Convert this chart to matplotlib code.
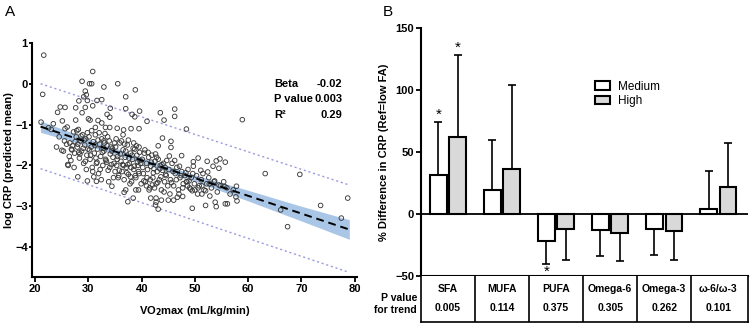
import numpy as np
import matplotlib
matplotlib.use("Agg")
import matplotlib.pyplot as plt
from matplotlib.patches import Patch

plt.rcParams['font.family'] = ['Liberation Sans', 'DejaVu Sans']

# ---------------- panel A data ----------------
# sparse points (upper part of cloud)
xs_top = [21.6, 21.4, 21.1, 30.8, 28.8, 30.2, 30.6, 35.5, 32.9, 38.8, 37.0, 29.4, 29.6, 29.1, 29.8, 28.2, 31.6, 32.5,
          24.7, 25.6, 27.6, 29.4, 30.8, 34.1, 37.0, 24.2, 28.8, 46.2, 46.2, 43.5, 39.6, 38.2, 38.7, 41.0, 44.2, 48.4,
          58.9, 25.1, 26.0, 23.4, 27.6, 30.0, 30.3, 31.8, 33.5, 34.0, 31.3, 33.2, 34.0, 35.4, 36.6, 38.0, 39.5, 32.5]
ys_top = [0.70, -0.26, -0.94, 0.30, 0.06, 0.0, 0.0, 0.0, -0.08, -0.15, -0.32, -0.18, -0.27, -0.32, -0.41, -0.42, -0.41, -0.39,
          -0.57, -0.58, -0.59, -0.58, -0.54, -0.60, -0.61, -0.70, -0.71, -0.62, -0.80, -0.71, -0.67, -0.75, -0.81, -0.92, -0.89, -1.11,
          -0.88, -0.91, -1.06, -0.98, -0.89, -0.86, -0.89, -0.90, -0.75, -0.82, -1.07, -1.07, -1.07, -1.09, -1.13, -1.10, -1.10, -0.96]

# right side and lower points
xs_side = [43.9, 45.5, 45.5, 45.2, 47.5, 43.1, 50.6, 52.3, 54.0, 54.7, 55.7, 49.7, 49.7, 53.4, 54.5, 52.4, 51.1, 63.2,
           69.7, 73.6, 78.7, 77.5, 67.4, 66.1, 49.5, 43.1, 37.4, 38.4, 52.0, 54.0, 55.7, 56.1, 57.9, 57.7, 57.8, 55.6,
           54.5, 53.7, 28.0, 26.2, 29.8, 31.5, 34.4, 37.0, 36.7, 38.9, 39.4, 40.9, 41.7, 42.7, 42.7, 42.6, 43.7, 45.0,
           46.0, 46.7, 47.7, 50.6, 51.3, 52.0, 51.3, 52.7, 50.0, 48.5, 49.2]
ys_side = [-1.33, -1.41, -1.56, -1.77, -1.76, -1.52, -1.82, -1.90, -1.89, -1.84, -1.92, -1.91, -2.02, -2.02, -2.07, -2.16, -2.12, -2.20,
           -2.22, -2.98, -2.80, -3.29, -3.50, -3.09, -3.05, -3.07, -2.89, -2.80, -2.98, -3.01, -2.94, -2.94, -2.87, -2.77, -2.51, -2.52,
           -2.48, -2.38, -2.28, -2.00, -2.38, -2.39, -2.51, -2.60, -2.66, -2.60, -2.60, -2.50, -2.80, -2.80, -2.90, -2.97, -2.85, -2.85,
           -2.85, -2.78, -2.76, -2.55, -2.50, -2.62, -2.70, -2.45, -2.60, -2.40, -2.58]

# dense core of the cloud
xs_core = [26.5, 26.9, 27.2, 27.4, 27.7, 27.9, 28.1, 28.3, 28.5, 28.7, 28.9, 29.1, 29.3, 29.5, 29.7, 29.9, 26.7, 27.0, 27.5, 27.8,
           28.2, 28.6, 29.0, 29.4, 29.8, 27.3, 28.4, 29.2, 29.6, 28.0,
           30.1, 30.3, 30.5, 30.7, 30.9, 31.1, 31.3, 31.5, 31.7, 31.9, 32.1, 32.3, 32.5, 32.7, 32.9, 33.1, 33.3, 33.5, 33.7, 33.9,
           34.1, 34.3, 34.5, 34.7, 34.9, 30.2, 30.6, 31.0, 31.4, 31.8, 32.2, 32.6, 33.0, 33.4, 33.8, 34.2, 34.6, 30.4, 30.8, 31.2,
           31.6, 32.0, 32.4, 32.8, 33.2, 33.6, 34.0, 34.4, 34.8, 32.9,
           35.1, 35.3, 35.5, 35.7, 35.9, 36.1, 36.3, 36.5, 36.7, 36.9, 37.1, 37.3, 37.5, 37.7, 37.9, 38.1, 38.3, 38.5, 38.7, 38.9,
           39.1, 39.3, 39.5, 39.7, 39.9, 35.2, 35.6, 36.0, 36.4, 36.8, 37.2, 37.6, 38.0, 38.4, 38.8, 39.2, 39.6, 35.4, 35.8, 36.2,
           36.6, 37.0, 37.4, 37.8, 38.2, 38.6, 39.0, 39.4, 39.8, 36.5, 37.5, 38.5, 39.5, 35.0, 37.9,
           40.1, 40.3, 40.5, 40.7, 40.9, 41.1, 41.3, 41.5, 41.7, 41.9, 42.1, 42.3, 42.5, 42.7, 42.9, 43.1, 43.3, 43.5, 43.7, 43.9,
           44.1, 44.3, 44.5, 44.7, 44.9, 40.2, 40.6, 41.0, 41.4, 41.8, 42.2, 42.6, 43.0, 43.4, 43.8, 44.2, 44.6, 40.4, 41.2, 42.0,
           42.8, 43.6, 44.4, 41.6, 42.4,
           45.1, 45.4, 45.7, 46.0, 46.3, 46.6, 46.9, 47.2, 47.5, 47.8, 48.1, 48.4, 48.7, 49.0, 49.3, 49.6, 49.9, 45.3, 45.9, 46.5,
           47.1, 47.7, 48.3, 48.9, 49.5, 46.2, 47.4, 48.6, 45.6, 47.0,
           50.3, 50.8, 51.2, 51.7, 52.2, 52.6, 53.1, 53.6, 54.2, 54.8, 55.4, 56.0, 56.6, 57.2, 50.5, 51.5, 52.8, 53.8,
           22.5, 23.0, 24.5, 25.0, 25.3, 25.6, 24.0, 25.9, 26.1, 25.5, 26.4, 26.8]
ys_core = [-1.45, -1.62, -1.18, -1.70, -1.30, -1.55, -1.12, -1.82, -1.40, -1.65, -1.25, -1.95, -1.50, -1.35, -1.75, -1.60, -1.88, -1.52, -1.42, -1.15,
           -1.68, -1.28, -1.58, -1.90, -1.20, -2.05, -1.72, -1.38, -2.10, -1.48,
           -1.30, -1.85, -1.55, -2.05, -1.42, -1.70, -1.25, -1.95, -1.60, -2.20, -1.48, -1.78, -1.35, -2.00, -1.65, -1.22, -1.88, -1.52, -2.12, -1.40,
           -1.72, -1.98, -1.58, -2.30, -1.45, -1.62, -1.15, -2.28, -1.82, -1.38, -2.10, -1.68, -1.45, -1.92, -2.40, -1.55, -1.80, -1.75, -2.15, -1.50,
           -1.92, -1.20, -2.35, -1.58, -1.85, -1.30, -2.05, -1.65, -1.95, -1.40,
           -1.55, -2.00, -1.78, -2.25, -1.45, -1.90, -2.15, -1.62, -2.35, -1.80, -2.05, -1.50, -2.22, -1.95, -1.70, -2.40, -1.85, -2.10, -1.60, -2.30,
           -1.75, -2.00, -2.20, -1.88, -2.45, -1.35, -2.30, -1.72, -1.98, -1.48, -2.18, -1.82, -2.05, -1.58, -2.25, -1.92, -1.68, -1.85, -2.12, -1.40,
           -2.00, -1.65, -1.98, -2.45, -1.75, -2.02, -1.52, -2.15, -1.95, -1.25, -1.38, -1.45, -1.55, -2.15, -2.28,
           -1.85, -2.20, -1.70, -2.40, -1.95, -2.10, -1.80, -2.55, -2.02, -1.75, -2.30, -2.08, -1.90, -2.45, -2.15, -1.85, -2.35, -2.00, -2.60, -2.12,
           -1.95, -2.40, -2.22, -1.88, -2.50, -2.05, -1.62, -2.30, -2.60, -1.92, -2.18, -1.72, -2.42, -2.08, -1.98, -2.65, -2.25, -2.38, -1.68, -2.48,
           -1.80, -2.28, -2.05, -2.35, -2.55,
           -2.10, -2.35, -1.95, -2.50, -2.20, -2.05, -2.60, -2.30, -2.15, -2.45, -2.25, -2.40, -2.10, -2.55, -2.30, -2.20, -2.45, -2.70, -2.15, -2.35,
           -2.02, -2.55, -2.18, -2.38, -2.62, -1.88, -2.25, -2.50, -2.42, -2.70,
           -2.25, -2.50, -2.35, -2.60, -2.45, -2.30, -2.55, -2.40, -2.65, -2.50, -2.40, -2.55, -2.70, -2.60, -2.70, -2.20, -2.75, -2.90,
           -1.08, -1.12, -1.30, -1.63, -1.65, -1.10, -1.55, -1.48, -1.98, -1.40, -1.78, -1.60]

fit_x = [21, 79]
fit_y = [-1.05, -3.57]
ci_x = [21, 30, 40, 50, 60, 70, 79]
ci_hi = [-0.91, -1.35, -1.80, -2.23, -2.61, -3.00, -3.33]
ci_lo = [-1.19, -1.53, -1.94, -2.39, -2.87, -3.36, -3.81]
pi_hi = [0.0, -2.48]
pi_lo = [-2.08, -4.62]

stat_names = ["Beta", "P value", "R\u00b2"]
stat_vals = ["-0.02", "0.003", "0.29"]

# ---------------- panel B data ----------------
fa_groups = ["SFA", "MUFA", "PUFA", "Omega-6", "Omega-3", "\u03c9-6/\u03c9-3"]
p_trend = ["0.005", "0.114", "0.375", "0.305", "0.262", "0.101"]
medium = [31, 19, -22, -13, -12, 4]
high = [62, 36, -12, -15, -14, 22]
medium_err = [43, 41, 18, 21, 21, 31]
high_err = [66, 68, 25, 23, 23, 35]
star_medium = [True, False, True, False, False, False]
star_high = [True, False, False, False, False, False]


fig = plt.figure(figsize=(7.5, 3.25), dpi=100)

# ---------- A ----------
axA = fig.add_axes([0.0427, 0.148, 0.433, 0.72])
axA.fill_between(ci_x, ci_lo, ci_hi, color='#a9c6e6', lw=0, zorder=1)
axA.plot(fit_x, pi_hi, ls=(0, (1.5, 2)), color='#9a9ae0', lw=1.0, zorder=2)
axA.plot(fit_x, pi_lo, ls=(0, (1.5, 2)), color='#9a9ae0', lw=1.0, zorder=2)
xs = xs_top + xs_side + xs_core
ys = ys_top + ys_side + ys_core
axA.scatter(xs, ys, s=11, facecolors='none', edgecolors='#3a3a3a', linewidths=0.65, zorder=3)
axA.plot(fit_x, fit_y, color='black', ls=(0, (4, 2.5)), lw=1.4, zorder=4)

axA.set_xlim(19.4, 80.4)
axA.set_ylim(-4.73, 1.0)
axA.set_xticks([20, 30, 40, 50, 60, 70, 80])
axA.set_yticks([-4, -3, -2, -1, 0, 1])
for s in ['top', 'right']:
    axA.spines[s].set_visible(False)
for s in ['left', 'bottom']:
    axA.spines[s].set_linewidth(1.5)
axA.tick_params(width=1.3, length=3.5, labelsize=8, pad=1.5)
axA.tick_params(axis='y', length=2.5, pad=0.5)
for lab in axA.get_xticklabels() + axA.get_yticklabels():
    lab.set_fontweight('bold')
axA.set_xlabel("VO$_\\mathbf{2}$max (mL/kg/min)", fontsize=8, fontweight='bold', labelpad=7)
axA.set_ylabel("log CRP (predicted mean)", fontsize=8, fontweight='bold', labelpad=1)

for i, (n, v) in enumerate(zip(stat_names, stat_vals)):
    yy = 0.825 - i * 0.066
    axA.text(0.745, yy, n, transform=axA.transAxes, fontsize=8, fontweight='bold', va='center', ha='left')
    axA.text(0.955, yy, v, transform=axA.transAxes, fontsize=8, fontweight='bold', va='center', ha='right')

fig.text(0.007, 0.963, "A", fontsize=11, va='center', ha='left')

# ---------- B ----------
axB = fig.add_axes([0.5613, 0.151, 0.436, 0.763])
pos = np.arange(len(fa_groups))
w = 0.31
off = 0.18
axB.bar(pos - off, medium, w, color='white', edgecolor='black', lw=1.5, zorder=2)
axB.bar(pos + off, high, w, color='#d9d9d9', edgecolor='black', lw=1.5, zorder=2)
for i in range(len(fa_groups)):
    for x0, v, e in [(pos[i] - off, medium[i], medium_err[i]), (pos[i] + off, high[i], high_err[i])]:
        sgn = 1 if v >= 0 else -1
        lo_hi = [[0], [e]] if sgn > 0 else [[e], [0]]
        axB.errorbar([x0], [v], yerr=lo_hi, fmt='none', ecolor='black', elinewidth=1.2, capsize=3, capthick=1.2, zorder=1)
    if star_medium[i]:
        v, e = medium[i], medium_err[i]
        yy = v + e + 6 if v >= 0 else v - e - 7
        axB.text(pos[i] - off, yy, "*", ha='center', va='center', fontsize=11)
    if star_high[i]:
        v, e = high[i], high_err[i]
        yy = v + e + 6 if v >= 0 else v - e - 7
        axB.text(pos[i] + off, yy, "*", ha='center', va='center', fontsize=11)

axB.axhline(0, color='black', lw=1.3, zorder=3)
axB.set_xlim(-0.5, 5.55)
axB.set_ylim(-50, 150)
axB.set_yticks([-50, 0, 50, 100, 150])
axB.set_xticks(pos)
axB.set_xticklabels([])
axB.tick_params(axis='x', direction='out', length=3, width=1.2)
axB.tick_params(axis='y', width=1.3, length=3.5, labelsize=8, pad=1.5)
for lab in axB.get_yticklabels():
    lab.set_fontweight('bold')
for s in ['top', 'right']:
    axB.spines[s].set_visible(False)
for s in ['left', 'bottom']:
    axB.spines[s].set_linewidth(1.5)
axB.set_ylabel("% Difference in CRP (Ref=low FA)", fontsize=8, fontweight='bold', labelpad=4)

handles = [Patch(facecolor='white', edgecolor='black', lw=1.5, label='Medium'),
           Patch(facecolor='#d9d9d9', edgecolor='black', lw=1.5, label='High')]
axB.legend(handles=handles, loc='upper left', bbox_to_anchor=(0.5, 0.83), frameon=False,
           fontsize=8.5, handlelength=1.3, handleheight=0.7, handletextpad=0.6, labelspacing=0.2)

fig.text(0.51, 0.963, "B", fontsize=11, va='center', ha='left')

# table under panel B
axT = fig.add_axes([0.5613, 0.009, 0.436, 0.142])
axT.set_xlim(-0.5, 5.55)
axT.set_ylim(0, 1)
axT.set_xticks([])
axT.set_yticks([])
for s in ['top']:
    axT.spines[s].set_visible(False)
for s in ['left', 'right', 'bottom']:
    axT.spines[s].set_linewidth(1.2)
for i in range(len(fa_groups) - 1):
    axT.axvline(i + 0.5, color='black', lw=1.2)
for i, (g, p) in enumerate(zip(fa_groups, p_trend)):
    axT.text(pos[i], 0.72, g, ha='center', va='center', fontsize=7.5, fontweight='bold')
    axT.text(pos[i], 0.30, p, ha='center', va='center', fontsize=7.5, fontweight='bold')
fig.text(0.556, 0.065, "P value\nfor trend", ha='right', va='center', fontsize=7.5,
         fontweight='bold', linespacing=1.2)

fig.savefig("out.png", dpi=100)
